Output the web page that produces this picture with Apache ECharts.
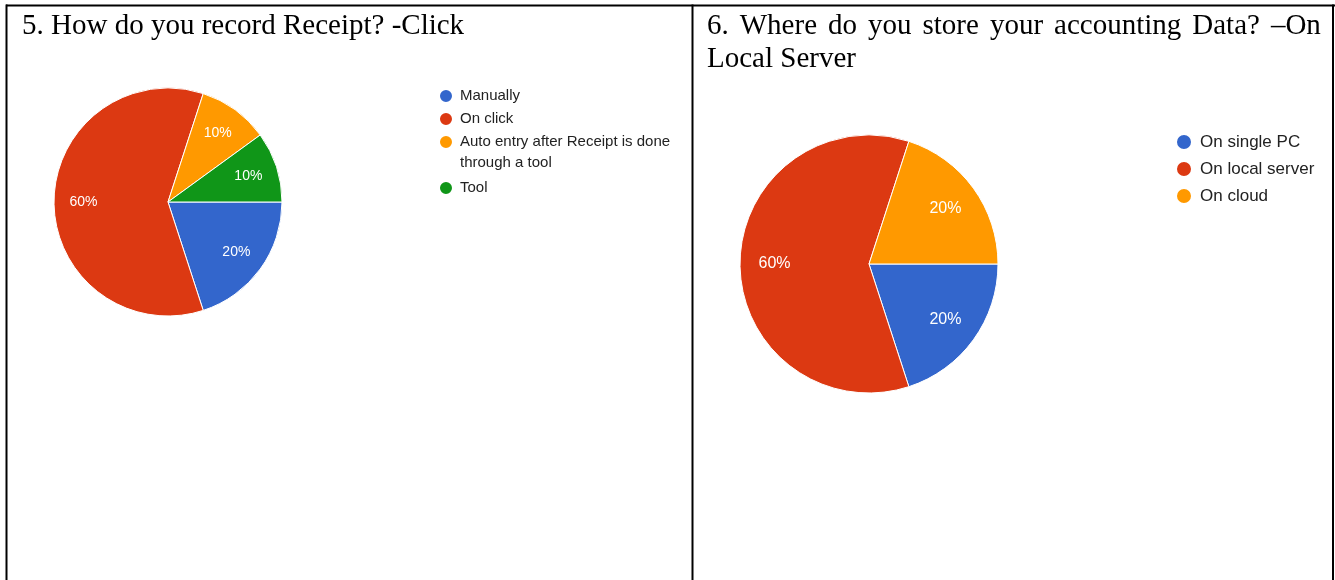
<!DOCTYPE html>
<html>
<head>
<meta charset="utf-8">
<script src="https://cdn.jsdelivr.net/npm/echarts@6/dist/echarts.min.js"></script>
<style>
  html, body { margin: 0; padding: 0; background: #fff; }
  #chart { width: 1335px; height: 580px; }
</style>
</head>
<body>
<div id="chart"></div>
<script>
// Survey answers (percent of respondents)
const receiptTitle = '5. How do you record Receipt? -Click';
const receiptMethods = ['Manually', 'On click', 'Auto entry after Receipt is done through a tool', 'Tool'];
const receiptShares = [20, 60, 10, 10];

const storageTitleLines = ['6. Where do you store your accounting Data? –On', 'Local Server'];
const storagePlaces = ['On single PC', 'On local server', 'On cloud'];
const storageShares = [20, 60, 20];

const sliceColors = ['#3366cc', '#dc3912', '#ff9900', '#109618'];

const sans = '"Liberation Sans", Arial, sans-serif';
const serif = '"Liberation Serif", "Times New Roman", serif';
const titleSize = 29;

function toData(names, values) {
  return names.map((name, i) => ({ name: name, value: values[i] }));
}

// One pie drawn twice: the coloured slices, and a transparent ring that
// carries the percentage labels a bit further out than the slice middle.
function pie(names, values, center, r, labelInner, fontSize) {
  return [
    {
      type: 'pie', center: center, radius: [0, r],
      startAngle: 0, clockwise: true,
      data: toData(names, values),
      itemStyle: { borderColor: '#fff', borderWidth: 1 },
      label: { show: false }, labelLine: { show: false },
      emphasis: { disabled: true }, silent: true
    },
    {
      type: 'pie', center: center, radius: [labelInner, r],
      startAngle: 0, clockwise: true,
      data: toData(names, values),
      itemStyle: { color: 'transparent', borderWidth: 0 },
      label: {
        show: true, position: 'inside', formatter: '{c}%',
        color: '#fff', fontSize: fontSize, fontFamily: sans
      },
      labelLine: { show: false },
      emphasis: { disabled: true }, silent: true, z: 3
    }
  ];
}

// Justified first line of the second heading: widened word gaps.
const justifiedTitle =
  storageTitleLines[0].split(' ').join('{gap| }') + '\n' + storageTitleLines[1];

const titleStyle = {
  fontFamily: serif, fontSize: titleSize, fontWeight: 'normal', color: '#000', lineHeight: 33
};

const chart = echarts.init(document.getElementById('chart'), null, { renderer: 'canvas' });

const legendText1 = { fontFamily: sans, fontSize: 15, color: '#222', lineHeight: 21, width: 225, overflow: 'break' };
const legendText2 = { fontFamily: sans, fontSize: 17, color: '#222', lineHeight: 23 };
const legendBase1 = {
  orient: 'vertical', left: 438, padding: 0,
  itemWidth: 18, itemHeight: 14, icon: 'circle', selectedMode: false,
  textStyle: legendText1
};

chart.setOption({
  animation: false,
  color: sliceColors,
  title: [
    { text: receiptTitle, left: 22, top: 10, padding: 0, textStyle: titleStyle },
    {
      text: justifiedTitle, left: 707, top: 10, padding: 0,
      textStyle: Object.assign({}, titleStyle, {
        rich: { gap: { fontFamily: serif, fontSize: titleSize, lineHeight: 33, width: 11 } }
      })
    }
  ],
  legend: [
    Object.assign({}, legendBase1, {
      top: 85.5, itemGap: 2,
      data: [receiptMethods[0], receiptMethods[1]]
    }),
    Object.assign({}, legendBase1, {
      top: 110.5, itemGap: 4,
      // a leading empty line keeps the icon beside the first wrapped line
      formatter: (name) => (name === receiptMethods[2] ? '\n' + name : name),
      data: [receiptMethods[2], receiptMethods[3]]
    }),
    {
      orient: 'vertical', left: 1175, top: 130.5, padding: 0, itemGap: 4,
      itemWidth: 22, itemHeight: 16, icon: 'circle', selectedMode: false,
      textStyle: legendText2,
      data: storagePlaces
    }
  ],
  series: [].concat(
    pie(receiptMethods, receiptShares, [168, 202], 114, 49, 14),
    pie(storagePlaces, storageShares, [869, 264], 129, 54, 16)
  ),
  graphic: [
    // table grid lines
    { type: 'line', shape: { x1: 6, y1: 5.5, x2: 1335, y2: 5.5 }, style: { stroke: '#000', lineWidth: 2 } },
    { type: 'line', shape: { x1: 6.5, y1: 4.5, x2: 6.5, y2: 580 }, style: { stroke: '#000', lineWidth: 2 } },
    { type: 'line', shape: { x1: 692.5, y1: 4.5, x2: 692.5, y2: 580 }, style: { stroke: '#000', lineWidth: 2 } },
    { type: 'line', shape: { x1: 1333, y1: 4.5, x2: 1333, y2: 580 }, style: { stroke: '#000', lineWidth: 2 } }
  ]
});
</script>
</body>
</html>
